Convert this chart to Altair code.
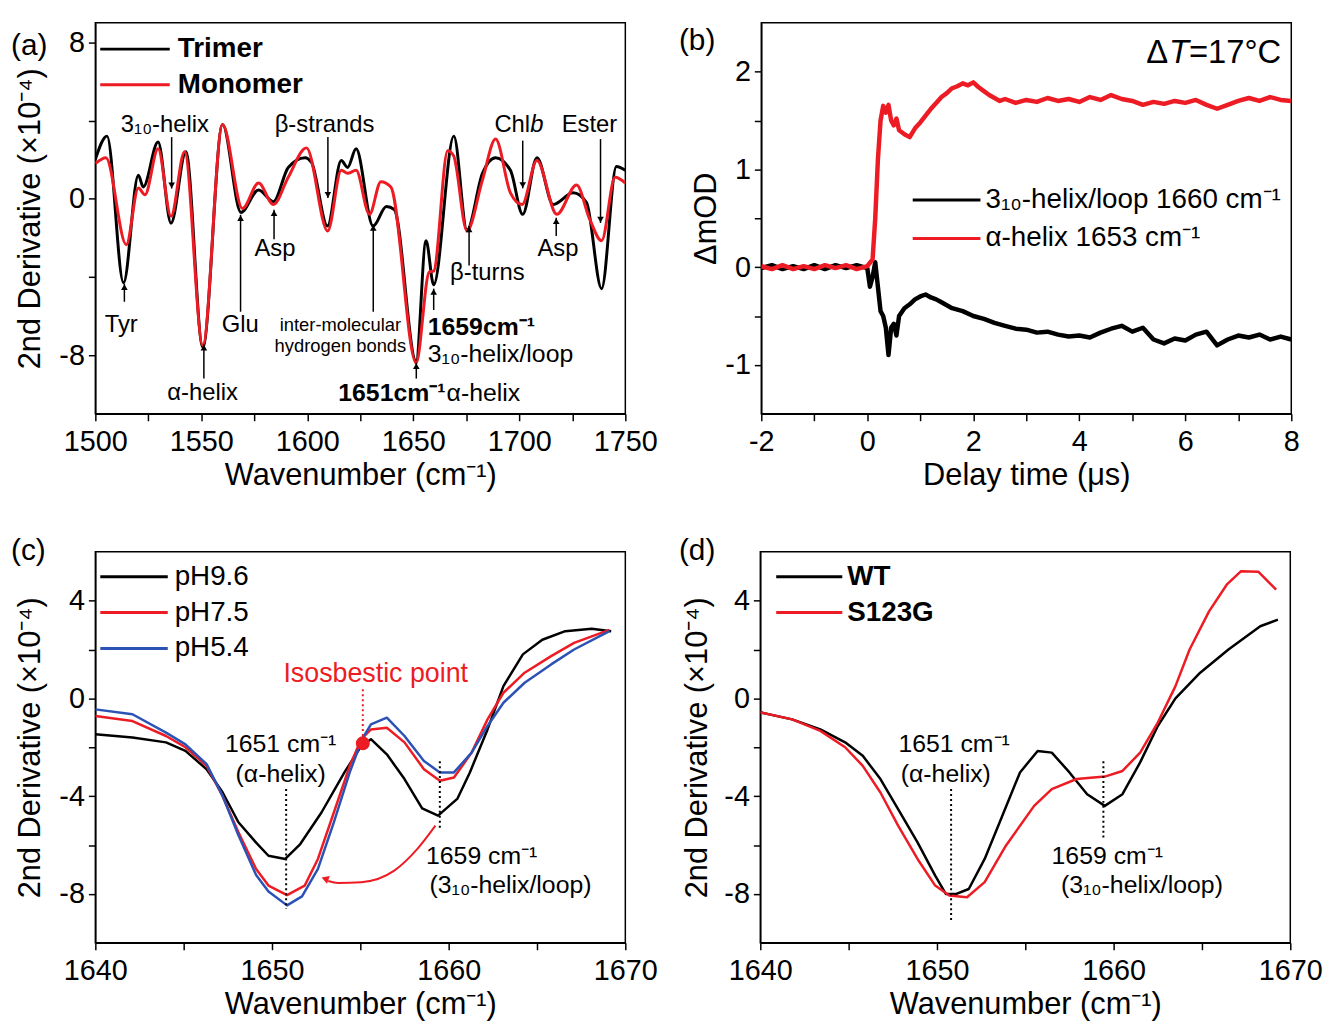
import altair as alt
import pandas as pd

FONT = "Liberation Sans"
BLK = "#000000"
RED = "#ed1c24"
BLUE = "#2c52b5"
W = 534

# ---------------- Panel (a) data ----------------
a_trimer_wn = [1500, 1505.5, 1513.3, 1520.3, 1522.6, 1529.6, 1535.7, 1542.7, 1550.7, 1560,
               1568.7, 1577, 1584, 1591, 1598.9, 1602, 1609.5, 1616, 1619, 1623,
               1631, 1637.3, 1641, 1651.3, 1656, 1659.6, 1669.1, 1675.3, 1682.6, 1688.8,
               1695.8, 1701.6, 1708.3, 1716, 1725.4, 1731.7, 1738.8, 1745.8, 1750]
a_trimer_val = [2.0, 3.2, -4.3, 1.2, 0.6, 2.9, -1.25, 2.4, -7.6, 3.8,
                -0.7, 0.45, -0.15, 1.6, 2.1, 1.85, -1.4, 1.95, 1.6, 2.55,
                -1.4, -0.4, -0.55, -8.3, -2.15, -4.4, 3.2, -1.6, 1.3, 2.1,
                1.45, -0.8, 2.1, -0.3, 0.3, -0.2, -4.6, 1.65, 1.45]
a_mono_wn = [1500, 1505, 1514.6, 1520.3, 1523.4, 1529.6, 1535.7, 1542.1, 1550.7, 1560,
             1569.4, 1577, 1584, 1591, 1599.6, 1609.6, 1616, 1619, 1623, 1629.3,
             1634.7, 1639.4, 1651.3, 1657.5, 1659.6, 1666.2, 1669, 1675.3, 1682.6, 1688.8,
             1695.8, 1701.3, 1708.3, 1717.7, 1727, 1733.2, 1738.8, 1745.2, 1750]
a_mono_val = [1.8, 2.1, -2.35, 0.55, 0.2, 2.55, -0.9, 2.4, -7.5, 3.8,
              -0.5, 0.8, -0.3, 1.1, 2.6, -1.65, 1.45, 1.3, 1.45, -0.8,
              0.87, 0.6, -8.4, -3.75, -3.7, 2.45, 2.2, -1.65, 0.95, 3.05,
              0.3, -0.3, 1.95, -0.8, 0.7, -1.05, -2.15, 1.1, 0.8]

a_down_x = [1536.0, 1609.7, 1701.6, 1738.3]
a_down_tail = [3.15, 3.15, 2.97, 3.05]
a_down_tip = [0.52, 0.03, 0.53, -1.24]
a_up_x = [1513.7, 1551.2, 1568.5, 1584.3, 1631.1, 1651.4, 1659.6, 1676.3, 1717.4]
a_up_tail = [-5.27, -9.2, -5.78, -2.08, -5.78, -9.2, -5.69, -3.42, -1.91]
a_up_tip = [-4.35, -7.45, -0.82, -0.57, -1.32, -8.39, -4.6, -1.4, -0.98]

a_lab_text = ["Tyr", "α-helix", "Glu", "Asp", "3₁₀-helix", "β-strands", "Ester", "β-turns", "Asp"]
a_lab_x = [1512.2, 1550.6, 1568.4, 1584.7, 1532.8, 1608.1, 1733.1, 1684.9, 1718.2]
a_lab_y = [-6.44, -9.92, -6.44, -2.6, 3.76, 3.76, 3.76, -3.81, -2.6]
a_small_text = ["inter-molecular", "hydrogen bonds"]
a_small_x = [1615.6, 1615.6]
a_small_y = [-6.44, -7.55]

a_leg_names = ["Trimer", "Monomer"]
a_leg_y = [7.65, 5.83]
a_leg_x = [1502.3, 1535.1, 1538.9]

# ---------------- Panel (b) data ----------------
b_t_red = [-2.0, -1.8, -1.6, -1.4, -1.2, -1.0, -0.8, -0.6, -0.4, -0.2, 0.0,
           0.1, 0.15, 0.2, 0.25, 0.3, 0.35, 0.4, 0.45, 0.5, 0.55, 0.6,
           0.7, 0.8, 0.9, 1.0, 1.1, 1.2, 1.3, 1.4, 1.5, 1.6, 1.7, 1.8, 1.9, 2.0, 2.1, 2.2, 2.3, 2.4, 2.5, 2.6,
           2.8, 3.0, 3.2, 3.4, 3.6, 3.8, 4.0, 4.2, 4.4, 4.6, 4.8, 5.0, 5.2, 5.4, 5.6, 5.8, 6.0, 6.2, 6.4,
           6.6, 6.8, 7.0, 7.2, 7.4, 7.6, 7.8, 8.0]
b_v_red = [0.01, -0.02, 0.02, -0.02, 0.01, -0.02, 0.02, -0.01, 0.02, -0.02, 0.01,
           0.08, 0.5, 1.1, 1.5, 1.65, 1.58, 1.66, 1.5, 1.45, 1.52, 1.40,
           1.36, 1.33, 1.42, 1.48, 1.55, 1.62, 1.68, 1.74, 1.78, 1.83, 1.85, 1.88, 1.86, 1.89, 1.84, 1.80, 1.76, 1.73, 1.70, 1.72,
           1.68, 1.71, 1.69, 1.73, 1.70, 1.72, 1.69, 1.74, 1.71, 1.76, 1.72, 1.70, 1.66, 1.69, 1.67, 1.70, 1.68, 1.71, 1.66,
           1.62, 1.66, 1.70, 1.73, 1.70, 1.74, 1.71, 1.70]
b_t_blk = [-2.0, -1.8, -1.6, -1.4, -1.2, -1.0, -0.8, -0.6, -0.4, -0.2, 0.0,
           0.05, 0.1, 0.15, 0.2, 0.25, 0.3, 0.35, 0.4, 0.45, 0.5, 0.55, 0.6,
           0.7, 0.8, 0.9, 1.0, 1.1, 1.2, 1.3, 1.4, 1.5, 1.6,
           1.8, 2.0, 2.2, 2.4, 2.6, 2.8, 3.0, 3.2, 3.4, 3.6, 3.8, 4.0, 4.2, 4.4, 4.6, 4.8,
           5.0, 5.2, 5.4, 5.6, 5.8, 6.0, 6.2, 6.4, 6.6, 6.8, 7.0, 7.2, 7.4, 7.6, 7.8, 8.0]
b_v_blk = [-0.01, 0.02, -0.02, 0.01, -0.02, 0.02, -0.02, 0.02, -0.01, 0.02, -0.01,
           -0.2, -0.1, 0.05, -0.2, -0.45, -0.5, -0.62, -0.9, -0.62, -0.58, -0.7, -0.5,
           -0.42, -0.38, -0.33, -0.30, -0.28, -0.31, -0.33, -0.36, -0.39, -0.42,
           -0.45, -0.50, -0.53, -0.57, -0.60, -0.63, -0.64, -0.67, -0.66, -0.69, -0.71, -0.70, -0.72, -0.67, -0.63, -0.60,
           -0.66, -0.62, -0.74, -0.78, -0.73, -0.75, -0.69, -0.66, -0.80, -0.74, -0.70, -0.72, -0.69, -0.74, -0.71, -0.74]
b_leg_names = ["3₁₀-helix/loop 1660 cm⁻¹", "α-helix 1653 cm⁻¹"]
b_leg_y = [0.687, 0.293]
b_leg_x = [0.857, 2.135, 2.23]
b_dt_anchor = [7.81, 2.19]

# ---------------- Panel (c) data ----------------
c_blk_wn = [1640, 1642.1, 1644, 1645.1, 1646.3, 1647.2, 1648.1, 1649.1, 1649.8, 1650.75,
            1651.6, 1652.8, 1654.1, 1655.05, 1655.6, 1656.5, 1657.5, 1658.5, 1659.4, 1660.5,
            1661.2, 1662.2, 1663.1, 1664.2, 1665.3, 1666.6, 1668.1, 1669.2]
c_blk_val = [-1.47, -1.6, -1.8, -2.15, -2.9, -3.84, -5.07, -5.9, -6.44, -6.57,
             -5.96, -4.67, -3.03, -1.95, -1.67, -2.29, -3.3, -4.5, -4.8, -4.1,
             -3.03, -1.27, 0.5, 1.8, 2.4, 2.75, 2.85, 2.75]
c_red_wn = [1640, 1642.1, 1644, 1645.1, 1646.3, 1647.2, 1648.1, 1649.1, 1649.8, 1650.85,
            1651.85, 1652.6, 1653.5, 1654.4, 1655.05, 1655.6, 1656.5, 1657.5, 1658.6, 1659.5,
            1660.3, 1661.3, 1662.2, 1663.1, 1664.3, 1665.8, 1667.1, 1669.1]
c_red_val = [-0.72, -0.93, -1.54, -2.0, -2.76, -3.99, -5.48, -6.98, -7.66, -8.05,
             -7.66, -6.57, -4.67, -2.76, -1.67, -1.27, -1.2, -1.8, -2.9, -3.37,
             -3.24, -2.22, -0.86, 0.23, 1.05, 1.73, 2.27, 2.8]
c_blue_wn = [1640, 1642.1, 1644, 1645.1, 1646.3, 1647.2, 1648.1, 1649.1, 1649.8, 1650.85,
             1651.7, 1652.6, 1653.5, 1654.4, 1655.1, 1655.6, 1656.5, 1657.5, 1658.6, 1659.5,
             1660.3, 1661.3, 1662.2, 1663.1, 1664.3, 1665.8, 1667.1, 1669.1]
c_blue_val = [-0.45, -0.65, -1.4, -1.88, -2.69, -3.99, -5.6, -7.23, -7.9, -8.47,
              -8.1, -6.98, -5.07, -3.03, -1.67, -1.06, -0.79, -1.54, -2.56, -3.03,
              -3.03, -2.22, -1.13, -0.18, 0.64, 1.39, 2.0, 2.75]
c_leg_names = ["pH9.6", "pH7.5", "pH5.4"]
c_leg_y = [4.98, 3.51, 2.04]
c_leg_x = [1640.28, 1644.1, 1644.49]
c_iso = [1655.14, -1.84]
c_iso_line = [0.37, -1.59]
c_iso_text = [1655.87, 0.98]
c_arrow_wn = [1653.18, 1653.74, 1655.05, 1656.92, 1658.23, 1659.25]
c_arrow_val = [-7.47, -7.55, -7.52, -7.05, -6.16, -5.21]
c_arrow_head = [1653.0, -7.38]
c_dot_x = [1650.8, 1659.5]
c_dot_top = [-3.71, -2.57]
c_dot_bot = [-8.61, -5.35]
c_ann_text = ["1651 cm⁻¹", "(α-helix)", "1659 cm⁻¹", "(3₁₀-helix/loop)"]
c_ann_x = [1650.49, 1650.49, 1661.87, 1663.5]
c_ann_y = [-1.88, -3.1, -6.45, -7.63]

# ---------------- Panel (d) data ----------------
d_wt_wn = [1640, 1641.8, 1643.4, 1644.8, 1645.8, 1646.8, 1647.8, 1648.9, 1649.9, 1650.5,
           1651.1, 1651.8, 1652.7, 1653.7, 1654.7, 1655.7, 1656.5, 1657.5, 1658.5, 1659.5,
           1660.5, 1661.5, 1662.5, 1663.5, 1664.9, 1666.5, 1668.3, 1669.3]
d_wt_val = [-0.57, -0.86, -1.27, -1.8, -2.35, -3.3, -4.53, -5.89, -7.25, -8.0,
            -8.0, -7.8, -6.57, -4.8, -3.03, -2.15, -2.22, -3.03, -3.92, -4.4,
            -3.92, -2.62, -1.13, 0.0, 1.05, 2.0, 2.95, 3.22]
d_mut_wn = [1640, 1641.8, 1643.4, 1644.8, 1645.8, 1646.8, 1647.8, 1648.9, 1649.9, 1650.7,
            1651.7, 1652.7, 1653.9, 1655.5, 1656.5, 1657.9, 1659.5, 1660.5, 1661.5, 1662.5,
            1663.5, 1664.3, 1665.4, 1666.4, 1667.2, 1668.2, 1669.2]
d_mut_val = [-0.57, -0.86, -1.33, -2.0, -2.76, -3.85, -5.21, -6.57, -7.66, -8.07,
             -8.14, -7.52, -6.03, -4.4, -3.71, -3.3, -3.2, -2.97, -2.22, -0.99,
             0.5, 2.0, 3.56, 4.65, 5.2, 5.18, 4.45]
d_leg_names = ["WT", "S123G"]
d_leg_y = [4.98, 3.51]
d_leg_x = [1640.9, 1644.64, 1644.92]
d_dot_x = [1650.8, 1659.42]
d_dot_top = [-3.71, -2.57]
d_dot_bot = [-9.1, -5.76]
d_ann_text = ["1651 cm⁻¹", "(α-helix)", "1659 cm⁻¹", "(3₁₀-helix/loop)"]
d_ann_x = [1650.97, 1650.5, 1659.64, 1661.6]
d_ann_y = [-1.88, -3.1, -6.45, -7.63]


# ---------------- helpers ----------------
def make_axis(values, mod, title, title_pad, label_pad=4):
    return alt.Axis(
        values=values,
        labelExpr=f"datum.value % {mod} === 0 ? '' + datum.value : ''",
        title=title, grid=False, tickSize=7, tickWidth=1.5, tickColor=BLK,
        domainColor=BLK, domainWidth=1.5,
        labelFont=FONT, labelFontSize=29, labelColor=BLK, labelPadding=label_pad,
        labelFlush=False, labelOverlap=False,
        titleFont=FONT, titleFontSize=31, titleFontWeight="normal", titleColor=BLK,
        titlePadding=title_pad,
    )


class Panel:
    def __init__(self, xdom, ydom, xa, ya, height):
        self.xs = alt.Scale(domain=xdom, nice=False, zero=False)
        self.ys = alt.Scale(domain=ydom, nice=False, zero=False)
        self.xa = xa
        self.ya = ya
        self.h = height
        self.layers = []

    def X(self):
        return alt.X("x:Q", scale=self.xs, axis=self.xa)

    def Y(self):
        return alt.Y("y:Q", scale=self.ys, axis=self.ya)

    def line(self, xs, ys, color, width=2.5, interp="linear"):
        df = pd.DataFrame({"x": xs, "y": ys})
        self.layers.append(alt.Chart(df).mark_line(
            color=color, strokeWidth=width, interpolate=interp, clip=True,
            strokeJoin="round"
        ).encode(x=self.X(), y=self.Y()))

    def text(self, xs, ys, labels, size, align="center", weight="normal", style="normal",
             color=BLK, dx=0):
        df = pd.DataFrame({"x": xs, "y": ys, "t": labels})
        self.layers.append(alt.Chart(df).mark_text(
            font=FONT, fontSize=size, align=align, baseline="middle",
            fontWeight=weight, fontStyle=style, color=color, dx=dx
        ).encode(x=self.X(), y=self.Y(), text="t:N"))

    def vrule(self, xs, y1, y2, color=BLK, width=1.5, dash=None):
        df = pd.DataFrame({"x": xs, "y": y1, "y2": y2})
        kw = dict(color=color, strokeWidth=width)
        if dash:
            kw["strokeDash"] = dash
        self.layers.append(alt.Chart(df).mark_rule(**kw).encode(
            x=self.X(), y=self.Y(), y2=alt.Y2("y2")))

    def hrule(self, x1, x2, ys, color=BLK, width=3):
        df = pd.DataFrame({"x": [x1] * len(ys), "x2": [x2] * len(ys), "y": ys})
        self.layers.append(alt.Chart(df).mark_rule(color=color, strokeWidth=width).encode(
            x=self.X(), x2=alt.X2("x2"), y=self.Y()))

    def points(self, xs, ys, shape, size, color=BLK, yoff=0, angle=0):
        df = pd.DataFrame({"x": xs, "y": ys})
        self.layers.append(alt.Chart(df).mark_point(
            shape=shape, size=size, filled=True, opacity=1, color=color,
            yOffset=yoff, angle=angle, strokeWidth=0
        ).encode(x=self.X(), y=self.Y()))

    def panel_label(self, lab, dx, dy):
        df = pd.DataFrame({"t": [lab]})
        self.layers.append(alt.Chart(df).mark_text(
            font=FONT, fontSize=30, align="left", baseline="middle", color=BLK
        ).encode(x=alt.value(dx), y=alt.value(dy), text="t:N"))

    def chart(self):
        return alt.layer(*self.layers).properties(width=W, height=self.h)


wn_title = "Wavenumber (cm⁻¹)"
der_title = "2nd Derivative (×10⁻⁴)"

# ---------------- Panel (a) ----------------
pa = Panel([1500, 1750], [-11, 9],
           make_axis(list(range(1500, 1751, 25)), 50, wn_title, 4, 7),
           make_axis([-8, -4, 0, 4, 8], 8, der_title, 12), 394)
pa.line(a_trimer_wn, a_trimer_val, BLK, 3, "monotone")
pa.line(a_mono_wn, a_mono_val, RED, 3, "monotone")
pa.vrule(a_down_x, a_down_tail, a_down_tip)
pa.vrule(a_up_x, a_up_tail, a_up_tip)
pa.points(a_down_x, a_down_tip, "triangle-down", 45, yoff=-3.3)
pa.points(a_up_x, a_up_tip, "triangle-up", 45, yoff=3.3)
pa.text(a_lab_x, a_lab_y, a_lab_text, 24)
pa.text([1705.1], [3.76], ["Chl"], 24, align="right")
pa.text([1705.1], [3.76], ["b"], 24, align="left", style="italic")
pa.text(a_small_x, a_small_y, a_small_text, 18.5)
pa.text([1665.2], [-9.92], ["1651cm⁻¹"], 25, align="right", weight="bold")
pa.text([1665.2], [-9.92], ["α-helix"], 25, align="left", dx=1)
pa.text([1656.8], [-6.54], ["1659cm⁻¹"], 25, align="left", weight="bold")
pa.text([1656.8], [-7.95], ["3₁₀-helix/loop"], 25, align="left")
pa.hrule(a_leg_x[0], a_leg_x[1], [a_leg_y[0]], BLK)
pa.hrule(a_leg_x[0], a_leg_x[1], [a_leg_y[1]], RED)
pa.text([a_leg_x[2]] * 2, a_leg_y, a_leg_names, 28, align="left", weight="bold")
pa.panel_label("(a)", -85, 24)

# ---------------- Panel (b) ----------------
pb = Panel([-2, 8], [-1.5, 2.5],
           make_axis(list(range(-2, 9)), 2, "Delay time (μs)", 4, 7),
           make_axis([-1, -0.5, 0, 0.5, 1, 1.5, 2], 1, "ΔmOD", 2), 394)
pb.line(b_t_blk, b_v_blk, BLK, 4.5)
pb.line(b_t_red, b_v_red, RED, 4.5)
pb.hrule(b_leg_x[0], b_leg_x[1], [b_leg_y[0]], BLK)
pb.hrule(b_leg_x[0], b_leg_x[1], [b_leg_y[1]], RED)
pb.text([b_leg_x[2]] * 2, b_leg_y, b_leg_names, 28, align="left")
pb.text([b_dt_anchor[0]], [b_dt_anchor[1]], ["=17°C"], 33, align="right")
pb.text([b_dt_anchor[0]], [b_dt_anchor[1]], ["T"], 33, align="right", style="italic", dx=-93)
pb.text([b_dt_anchor[0]], [b_dt_anchor[1]], ["Δ"], 33, align="right", dx=-114)
pb.panel_label("(b)", -83, 18)

# ---------------- Panel (c) ----------------
pc = Panel([1640, 1670], [-10, 6],
           make_axis(list(range(1640, 1671, 5)), 10, wn_title, 4, 7),
           make_axis([-8, -6, -4, -2, 0, 2, 4], 4, der_title, 12), 394)
pc.line(c_blk_wn, c_blk_val, BLK, 2.5)
pc.line(c_red_wn, c_red_val, RED, 2.5)
pc.line(c_blue_wn, c_blue_val, BLUE, 2.5)
pc.vrule([c_iso[0]], [c_iso_line[0]], [c_iso_line[1]], RED, 2, [2, 3])
pc.points([c_iso[0]], [c_iso[1]], "circle", 200, RED)
pc.text([c_iso_text[0]], [c_iso_text[1]], ["Isosbestic point"], 27, color=RED)
pc.vrule(c_dot_x, c_dot_top, c_dot_bot, BLK, 2, [2, 3])
pc.text(c_ann_x, c_ann_y, c_ann_text, 25)
pc.line(c_arrow_wn, c_arrow_val, RED, 2, "monotone")
pc.points([c_arrow_head[0]], [c_arrow_head[1]], "triangle-left", 70, RED, angle=20)
for i, col in enumerate([BLK, RED, BLUE]):
    pc.hrule(c_leg_x[0], c_leg_x[1], [c_leg_y[i]], col)
pc.text([c_leg_x[2]] * 3, c_leg_y, c_leg_names, 28, align="left")
pc.panel_label("(c)", -85, -1)

# ---------------- Panel (d) ----------------
pdn = Panel([1640, 1670], [-10, 6],
            make_axis(list(range(1640, 1671, 5)), 10, wn_title, 4, 7),
            make_axis([-8, -6, -4, -2, 0, 2, 4], 4, der_title, 10), 394)
pdn.line(d_wt_wn, d_wt_val, BLK, 2.5)
pdn.line(d_mut_wn, d_mut_val, RED, 2.5)
pdn.vrule(d_dot_x, d_dot_top, d_dot_bot, BLK, 2, [2, 3])
pdn.text(d_ann_x, d_ann_y, d_ann_text, 25)
pdn.hrule(d_leg_x[0], d_leg_x[1], [d_leg_y[0]], BLK)
pdn.hrule(d_leg_x[0], d_leg_x[1], [d_leg_y[1]], RED)
pdn.text([d_leg_x[2]] * 2, d_leg_y, d_leg_names, 28, align="left", weight="bold")
pdn.panel_label("(d)", -82, -1)

row1 = alt.hconcat(pa.chart(), pb.chart(), spacing=19).resolve_scale(x="independent", y="independent")
row2 = alt.hconcat(pc.chart(), pdn.chart(), spacing=19).resolve_scale(x="independent", y="independent")
chart = alt.vconcat(row1, row2, spacing=44).resolve_scale(
    x="independent", y="independent"
).properties(
    padding={"left": 2, "top": 10, "right": 5, "bottom": 0}
).configure_view(stroke=BLK, strokeWidth=1.5)

chart.save("out.html", embed_options={"renderer": "svg", "actions": False})
